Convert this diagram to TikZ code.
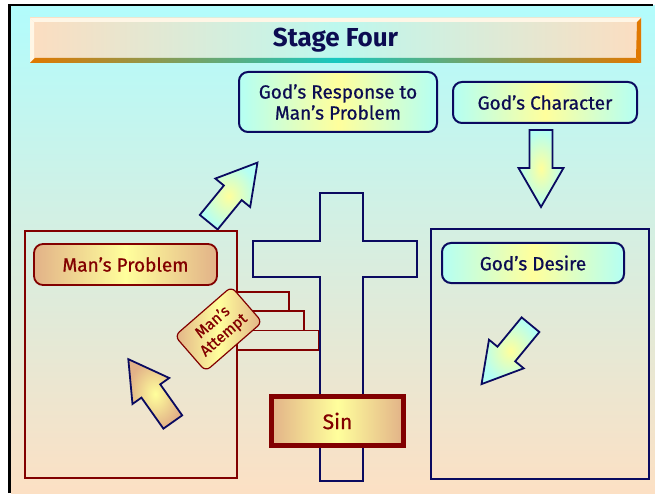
\documentclass[tikz,border=0pt]{standalone}
\usepackage{fontspec}
\setmainfont{Fira Sans}
\newfontfamily\medfont{Fira Sans}[FakeBold=0.7]
\usetikzlibrary{positioning,calc}
\definecolor{cbInk}{HTML}{0C0C52}
\definecolor{cbNavy}{HTML}{0A0A60}
\definecolor{cbRed}{HTML}{820000}
\definecolor{cbCyan}{HTML}{B4FFF4}
\definecolor{cbYellow}{HTML}{FFFF9C}
\definecolor{cbTan}{HTML}{E2B288}
\definecolor{cbSky}{HTML}{B2FCFC}
\definecolor{cbPeach}{HTML}{FCE0C4}
\definecolor{cbBarPeach}{HTML}{FCDDC0}
\definecolor{cbBarCyan}{HTML}{BDF8EE}
\definecolor{cbOrange}{HTML}{E07800}
\definecolor{cbTeal}{HTML}{18C8C0}
\definecolor{cbLight}{HTML}{FFF6E6}

\begin{document}
\begin{tikzpicture}[x=1pt,y=1pt,
  gbox/.style={draw=cbNavy,line width=2pt,rounded corners=9pt,left color=cbCyan,
               right color=cbCyan,middle color=cbYellow,text=cbInk,align=center,
               inner sep=0pt,font=\medfont\fontsize{19}{21}\selectfont},
  rbox/.style={draw=cbRed,line width=1.8pt,rounded corners=9pt,left color=cbTan,
               right color=cbTan,middle color=cbYellow,text=cbRed,align=center,
               inner sep=0pt,font=\medfont\fontsize{19}{21}\selectfont},
  bar/.style={left color=cbBarPeach,right color=cbBarPeach,middle color=cbBarCyan,
              minimum width=611,minimum height=45,outer sep=0pt,text=cbInk,
              font=\fontsize{26}{28}\selectfont\bfseries},
  pics/blockarrow/.style={code={
    \shade[draw=cbNavy,line width=1.8pt,inner color=cbYellow,outer color=#1]
      (0,-11.5) -- (38,-11.5) -- (38,-22.5) -- (77,0) -- (38,22.5) -- (38,11.5)
      -- (0,11.5) -- cycle;}}]
\useasboundingbox (0,0) rectangle (655,493);
% backdrop and frame
\shade[top color=cbSky,bottom color=cbPeach] (11,0) rectangle (655,487);
\draw[line width=3pt] (9.5,0) -- (9.5,489);
\draw[line width=2pt] (8,488) -- (653,488);
% title bar
\node[bar] (title) at (335.5,452.5) {Stage Four};
\fill[cbLight] (title.north west) -- (title.north east) -- ++(-4,-4)
  -- ($(title.north west)+(4,-4)$) -- cycle;
\fill[cbLight] (title.south west) -- (title.north west) -- ++(4,-4)
  -- ($(title.south west)+(4,4)$) -- cycle;
\shade[left color=cbOrange,right color=cbOrange,middle color=cbTeal]
  (title.south west) -- (title.south east) -- ++(-5,5)
  -- ($(title.south west)+(5,5)$) -- cycle;
\fill[cbOrange] (title.south east) -- (title.north east) -- ++(-4,-4)
  -- ($(title.south east)+(-5,5)$) -- cycle;
% top boxes
\node[gbox,minimum width=198,minimum height=60] (resp) at (338,391)
  {God’s Response to\\Man’s Problem};
\node[gbox,minimum width=184,minimum height=41] (char) at (545,390.5)
  {God’s Character};
% block arrows
\pic[rotate=50.7] at (208.7,270.8) {blockarrow=cbCyan};
\pic[rotate=-90] at (541,363) {blockarrow=cbCyan};
\pic[rotate=125.3] at (172.8,71) {blockarrow=cbTan};
\pic[rotate=230.5] at (530.5,168.3) {blockarrow=cbCyan};
% man's side
\draw[cbRed,line width=1.5pt] (25,15) rectangle (237,262);
\node[rbox,minimum width=183,minimum height=41] (prob) at (125.5,228.5)
  {Man’s Problem};
\foreach \r/\lo/\hi in {289/182/201,304/162.5/182,319/143/162.5}
  \draw[cbRed,line width=1.5pt] (237,\lo) rectangle (\r,\hi);
\node[rbox,rotate=41,minimum width=75,minimum height=47,rounded corners=6pt,
      line width=1.2pt,font=\medfont\fontsize{15.5}{17}\selectfont] (try)
  at (218.5,164) {Man’s\\Attempt};
% cross
\draw[cbNavy,line width=1.5pt] (320,12) -- (363,12) -- (363,216) -- (417,216)
  -- (417,252) -- (363,252) -- (363,300) -- (320,300) -- (320,252) -- (253,252)
  -- (253,216) -- (320,216) -- cycle;
\node[rbox,rounded corners=0pt,line width=4.5pt,minimum width=132,
      minimum height=49,font=\medfont\fontsize{21}{21}\selectfont] (sin)
  at (337.5,72) {Sin};
% god's side
\draw[cbNavy,line width=1.2pt] (431,14) rectangle (649,264);
\node[gbox,minimum width=182,minimum height=40] (desire) at (533,230)
  {God’s Desire};
\end{tikzpicture}
\end{document}
